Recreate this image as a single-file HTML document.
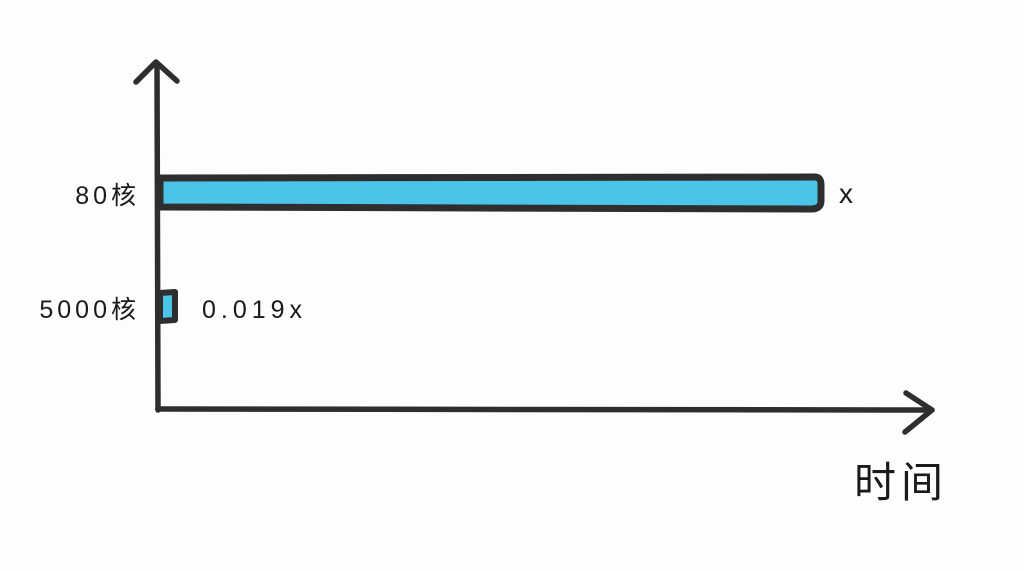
<!DOCTYPE html>
<html><head><meta charset="utf-8"><style>
html,body{margin:0;padding:0;background:#fdfdfd;}
svg{display:block}
text{font-family:"Liberation Sans","Noto Sans CJK SC",sans-serif;fill:#1a1a1a}
</style></head><body>
<svg width="1024" height="571" viewBox="0 0 1024 571" xmlns="http://www.w3.org/2000/svg">
<rect width="1024" height="571" fill="#fdfdfd"/>
<g stroke="#2e2e2e" stroke-width="5.5" stroke-linecap="round" stroke-linejoin="round" fill="none">
<path d="M157 64 L158 410"/>
<path d="M136 82 L156 62 L177 81"/>
<path d="M158 409 L932 410"/>
<path d="M906 393 L932 410 L905 432"/>
</g>
<path d="M160 178 L815 177 Q821 177 821 185 L821 201 Q821 209 811 209 L160 207 Z" fill="#4cc3e8" stroke="#2e2e2e" stroke-width="7" stroke-linejoin="round"/>
<path d="M160 293 L175 292 L175 320 L160 321 Z" fill="#4cc3e8" stroke="#2e2e2e" stroke-width="6" stroke-linejoin="round"/>
<text x="140" y="204" font-size="25" text-anchor="end" letter-spacing="4">80核</text>
<text x="140" y="318" font-size="25" text-anchor="end" letter-spacing="4">5000核</text>
<text x="202" y="318" font-size="25" letter-spacing="5">0.019x</text>
<text x="839" y="203" font-size="28">x</text>
<text x="854" y="497" font-size="42" letter-spacing="5">时间</text>
</svg>
</body></html>
